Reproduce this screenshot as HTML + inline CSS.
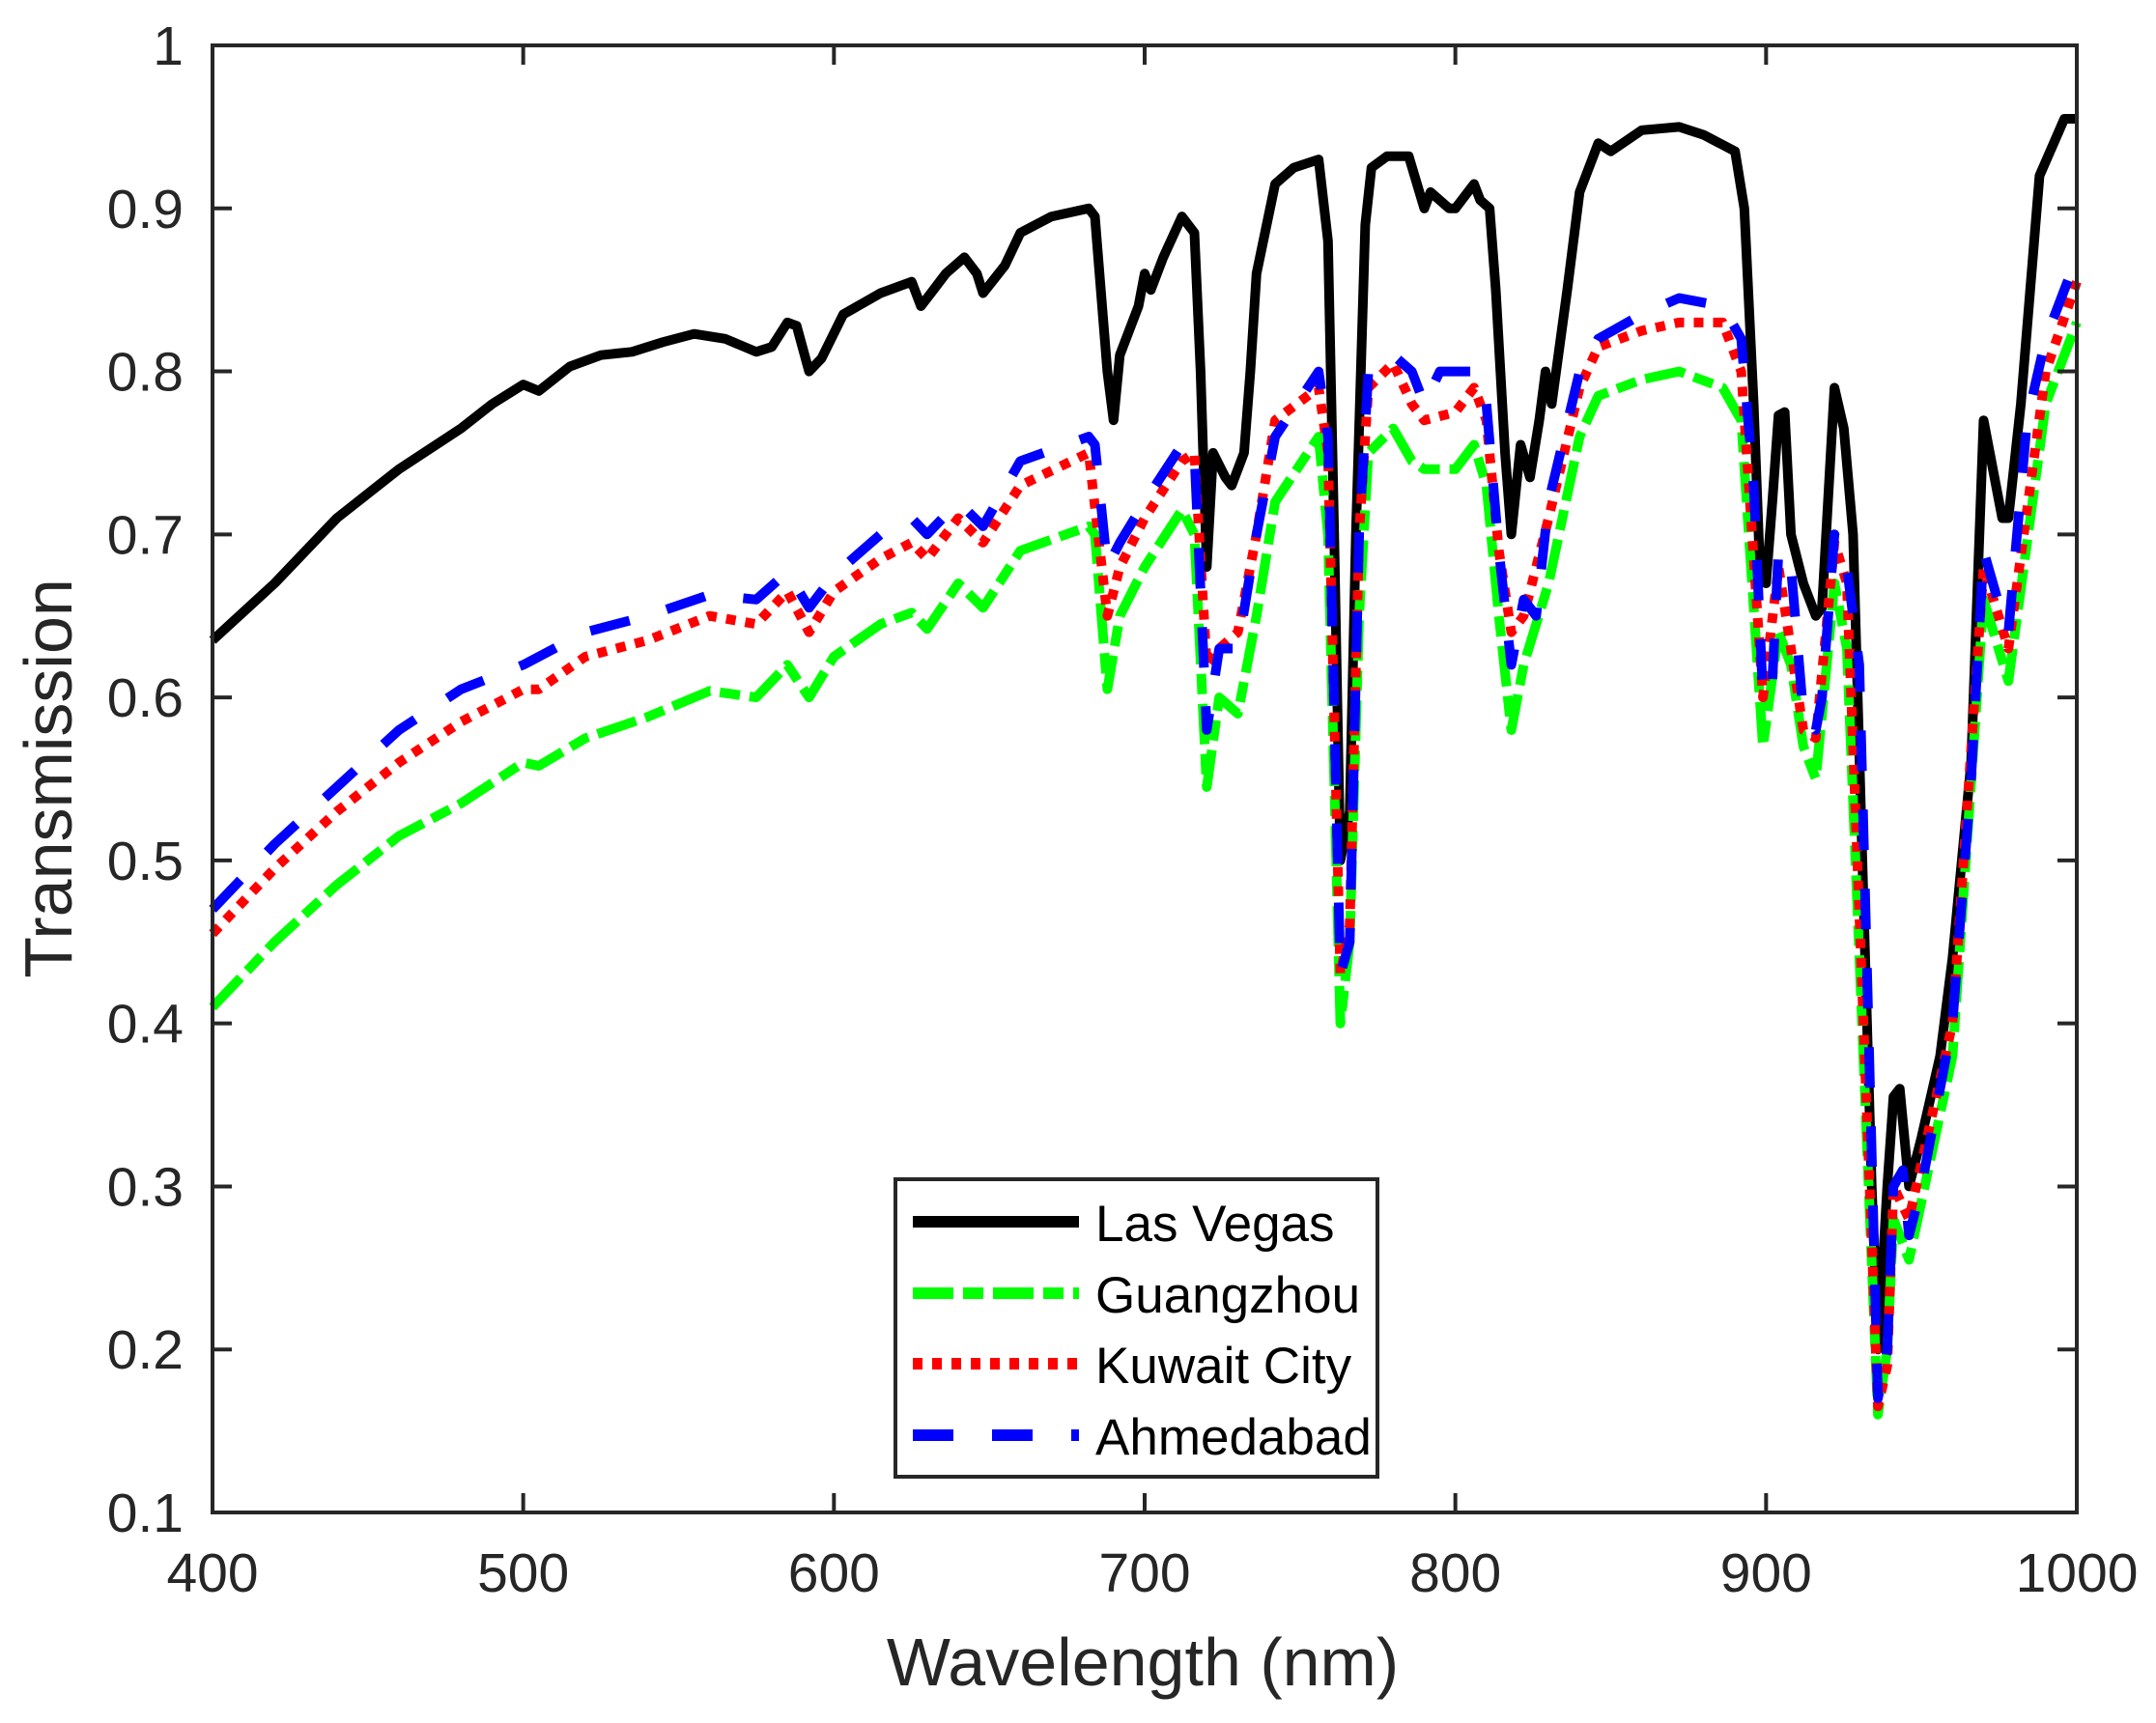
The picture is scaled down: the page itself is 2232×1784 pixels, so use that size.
<!DOCTYPE html>
<html><head><meta charset="utf-8"><style>
html,body{margin:0;padding:0;background:#fff;}
svg{display:block;}
text{font-family:"Liberation Sans",Arial,sans-serif;fill:#262626;}
</style></head><body>
<svg id="s" width="2232" height="1784" viewBox="0 0 2232 1784" xmlns="http://www.w3.org/2000/svg">
<rect width="2232" height="1784" fill="#fff"/>
<g id="series"></g>
<g id="axes" stroke="#262626" stroke-width="4" fill="none"></g>
<g id="labels" font-size="57"></g>
<text x="1183" y="1745" font-size="70" text-anchor="middle">Wavelength (nm)</text>
<text transform="translate(74,806) rotate(-90)" font-size="70" text-anchor="middle">Transmission</text>
<g id="legend">
<rect x="927" y="1221" width="499" height="308" fill="#fff" stroke="#262626" stroke-width="4"/>
<line x1="945" y1="1265" x2="1117" y2="1265" stroke="#000" stroke-width="12"/>
<line x1="945" y1="1339" x2="1117" y2="1339" stroke="#00ff00" stroke-width="12" stroke-dasharray="42 10 21 10"/>
<line x1="945" y1="1412" x2="1117" y2="1412" stroke="#ff0000" stroke-width="12" stroke-dasharray="10 10"/>
<line x1="945" y1="1486" x2="1117" y2="1486" stroke="#0000ff" stroke-width="12" stroke-dasharray="42 40"/>
<text x="1134" y="1285" font-size="53" style="fill:#000">Las Vegas</text>
<text x="1134" y="1359" font-size="53" style="fill:#000">Guangzhou</text>
<text x="1134" y="1432" font-size="53" style="fill:#000">Kuwait City</text>
<text x="1134" y="1506" font-size="53" style="fill:#000">Ahmedabad</text>
</g>
</svg>
<script>
const X0=220,X1=2150,Y0=47,Y1=1566;
const fx=w=>X0+(w-400)/600*(X1-X0);
const fy=t=>Y0+(1-t)/0.9*(Y1-Y0);
const NS="http://www.w3.org/2000/svg";
function parse(s){const a=s.trim().split(/[\s,]+/).map(Number);const r=[];for(let i=0;i<a.length;i+=2)r.push([a[i],a[i+1]]);return r;}
const black=parse(`400 .635 420 .67 440 .71 460 .74 480 .765 490 .78 500 .792 505 .788 515 .803 525 .81 535 .812 545 .818 555 .823 565 .82 575 .812 580 .815 585 .83 588 .828 592 .8 596 .808 603 .835 615 .848 625 .855 628 .84 632 .85 636 .86 642 .87 646 .86 648 .848 655 .865 660 .885 670 .895 682 .9 684 .895 688 .8 690 .77 692 .81 698 .84 700 .86 702 .85 706 .87 712 .895 716 .885 718 .8 720 .68 722 .75 726 .735 728 .73 732 .75 734 .8 736 .86 742 .915 748 .925 756 .93 759 .88 761 .7 763 .5 766 .53 768 .7 771 .89 773 .925 778 .932 785 .932 790 .9 792 .91 798 .9 800 .9 806 .915 808 .905 811 .9 813 .85 816 .75 818 .7 821 .755 824 .735 827 .77 829 .8 831 .78 836 .85 840 .91 846 .94 850 .935 860 .948 872 .95 880 .945 890 .935 893 .9 896 .78 898 .68 900 .67 902 .72 904 .773 906 .775 908 .7 912 .67 916 .65 918 .655 922 .79 925 .765 928 .7 931 .5 934 .3 936 .2 939 .3 941 .355 943 .36 946 .3 950 .33 956 .38 960 .44 966 .56 970 .77 976 .71 978 .71 982 .78 988 .92 996 .955 1000 .955`);
const blue=parse(`400 .47 420 .51 440 .545 460 .58 480 .605 500 .62 520 .64 540 .65 560 .663 575 .66 585 .677 592 .655 600 .675 615 .7 625 .71 630 .7 640 .72 648 .705 660 .745 682 .76 684 .755 688 .68 692 .695 700 .72 712 .755 716 .75 720 .58 724 .63 730 .63 736 .7 742 .76 756 .8 759 .76 763 .43 766 .45 769 .7 772 .8 780 .81 786 .8 790 .78 795 .8 806 .8 810 .78 814 .69 818 .62 822 .66 826 .65 830 .72 840 .8 846 .82 860 .835 872 .845 886 .84 892 .82 896 .73 899 .6 902 .61 904 .69 908 .68 912 .59 916 .58 918 .6 922 .7 926 .68 930 .62 936 .17 939 .2 941 .3 944 .31 946 .27 950 .3 960 .4 966 .55 970 .69 976 .65 978 .64 984 .77 990 .82 1000 .87`);
const red=parse(`400 .455 420 .495 440 .53 460 .56 480 .585 500 .605 505 .605 520 .625 540 .635 560 .65 575 .645 585 .665 592 .64 600 .665 615 .685 625 .695 630 .685 640 .71 648 .695 660 .73 682 .75 688 .65 692 .68 700 .71 712 .745 716 .75 720 .62 724 .63 730 .64 736 .7 742 .77 756 .79 759 .75 763 .43 766 .46 769 .7 772 .79 780 .805 786 .78 790 .77 800 .775 806 .79 810 .77 814 .69 818 .64 822 .65 830 .71 840 .79 846 .815 860 .825 872 .83 886 .83 892 .8 899 .6 904 .68 912 .58 916 .575 922 .695 926 .67 936 .165 939 .19 941 .3 946 .28 960 .4 970 .68 978 .63 990 .8 1000 .855`);
const green=parse(`400 .41 420 .45 440 .485 460 .515 480 .535 500 .56 505 .558 520 .575 540 .588 560 .604 575 .6 585 .62 592 .6 600 .625 615 .645 625 .652 630 .642 640 .67 648 .655 660 .69 682 .705 684 .7 688 .605 692 .65 700 .68 712 .715 716 .7 720 .545 724 .6 730 .59 736 .65 742 .72 756 .76 759 .7 763 .4 766 .45 769 .65 772 .75 780 .765 786 .745 790 .74 800 .74 806 .755 810 .73 814 .65 818 .58 822 .62 830 .67 840 .76 846 .785 860 .795 872 .8 886 .79 892 .77 899 .57 904 .64 908 .62 912 .57 916 .55 922 .67 926 .63 936 .16 939 .2 941 .28 946 .255 960 .38 970 .66 978 .61 990 .78 1000 .83`);
const g=document.getElementById('series');
function add(d,col,dash){const p=document.createElementNS(NS,'path');p.setAttribute('d','M'+d.map(q=>fx(q[0]).toFixed(1)+','+fy(q[1]).toFixed(1)).join('L'));p.setAttribute('fill','none');p.setAttribute('stroke',col);p.setAttribute('stroke-width','10');p.setAttribute('stroke-linejoin','round');if(dash)p.setAttribute('stroke-dasharray',dash);g.appendChild(p);}
add(black,'#000');add(green,'#00ff00','42 10 21 10');add(red,'#ff0000','10 10');add(blue,'#0000ff','42 40');
const ax=document.getElementById('axes');const lb=document.getElementById('labels');
let h=`<rect x="${X0}" y="${Y0}" width="${X1-X0}" height="${Y1-Y0}"/>`;
for(let w=400;w<=1000;w+=100){const x=fx(w);h+=`<line x1="${x}" y1="${Y1}" x2="${x}" y2="${Y1-20}"/><line x1="${x}" y1="${Y0}" x2="${x}" y2="${Y0+20}"/>`;
lb.innerHTML+=`<text x="${x}" y="1648" text-anchor="middle">${w}</text>`;}
for(let i=1;i<=10;i++){const t=i/10,y=fy(t);h+=`<line x1="${X0}" y1="${y}" x2="${X0+20}" y2="${y}"/><line x1="${X1}" y1="${y}" x2="${X1-20}" y2="${y}"/>`;
lb.innerHTML+=`<text x="190" y="${y+20}" text-anchor="end">${i==10?'1':'0.'+i}</text>`;}
ax.innerHTML=h;
</script>
</body></html>
